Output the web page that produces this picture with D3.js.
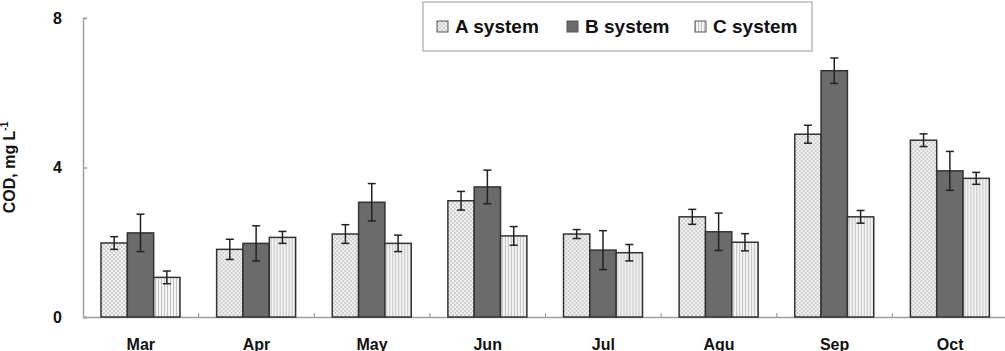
<!DOCTYPE html>
<html>
<head>
<meta charset="utf-8">
<script src="https://cdn.jsdelivr.net/npm/d3@7"></script>
<style>
  body { margin: 0; background: #fff; }
  svg { display: block; font-family: Arial, "Liberation Sans", sans-serif; }
</style>
</head>
<body>
<div id="chart"></div>
<script>
// Data
const months = ["Mar", "Apr", "May", "Jun", "Jul", "Agu", "Sep", "Oct"];
const seriesNames = ["A system", "B system", "C system"];
const aValues = [1.98, 1.81, 2.22, 3.11, 2.22, 2.68, 4.89, 4.73];
const bValues = [2.25, 1.97, 3.07, 3.48, 1.79, 2.28, 6.59, 3.91];
const cValues = [1.06, 2.13, 1.97, 2.17, 1.72, 2.00, 2.68, 3.71];
const aErrors = [0.17, 0.27, 0.25, 0.25, 0.12, 0.20, 0.24, 0.17];
const bErrors = [0.50, 0.47, 0.50, 0.45, 0.52, 0.50, 0.34, 0.52];
const cErrors = [0.17, 0.16, 0.22, 0.25, 0.22, 0.23, 0.17, 0.16];
const yTicks = [0, 4, 8];

const width = 1005, height = 351;
const margin = {top: 18, right: -3, bottom: 34, left: 83};

const svg = d3.select("#chart")
  .append("svg")
    .attr("width", width)
    .attr("height", height);

// fill patterns
const defs = svg.append("defs");
const patA = defs.append("pattern")
  .attr("id", "patA").attr("patternUnits", "userSpaceOnUse")
  .attr("width", 4).attr("height", 4);
patA.append("rect").attr("width", 4).attr("height", 4).attr("fill", "#f4f4f4");
patA.append("circle").attr("cx", 1).attr("cy", 1).attr("r", 0.7).attr("fill", "#888");
patA.append("circle").attr("cx", 3).attr("cy", 3).attr("r", 0.7).attr("fill", "#888");

const patC = defs.append("pattern")
  .attr("id", "patC").attr("patternUnits", "userSpaceOnUse")
  .attr("width", 3).attr("height", 4);
patC.append("rect").attr("width", 3).attr("height", 4).attr("fill", "#f4f4f4");
patC.append("rect").attr("x", 0).attr("width", 1).attr("height", 4).attr("fill", "#c2c2c2");

const fills = ["url(#patA)", "#6b6b6b", "url(#patC)"];

// rows for the bars
const rows = months.map((m, i) => ({
  month: m,
  bars: [
    {key: seriesNames[0], value: aValues[i], err: aErrors[i]},
    {key: seriesNames[1], value: bValues[i], err: bErrors[i]},
    {key: seriesNames[2], value: cValues[i], err: cErrors[i]}
  ]
}));

// scales
const x0 = d3.scaleBand()
  .domain(months)
  .range([margin.left, width - margin.right]);
const x1 = d3.scaleBand()
  .domain(seriesNames)
  .range([18, 97]);
const y = d3.scaleLinear()
  .domain([0, 8])
  .range([height - margin.bottom, margin.top]);

// y axis
const yAxis = svg.append("g")
  .attr("transform", `translate(${margin.left},0)`)
  .call(d3.axisLeft(y).tickValues(yTicks).tickSize(-4).tickFormat(d3.format("d")).tickPadding(21));
yAxis.select(".domain").attr("stroke", "#a0a0a0").attr("stroke-width", 1.5);
yAxis.selectAll(".tick line").attr("stroke", "#a0a0a0").attr("stroke-width", 1.5);
yAxis.selectAll("text")
  .attr("font-size", 16).attr("font-weight", "bold").attr("fill", "#111");

// x axis
const xAxis = svg.append("g")
  .attr("transform", `translate(0,${y(0)})`)
  .call(d3.axisBottom(x0).tickSize(0).tickPadding(22));
xAxis.select(".domain").attr("stroke", "#a0a0a0").attr("stroke-width", 1.5);
xAxis.selectAll("text")
  .attr("font-size", 16).attr("font-weight", "bold").attr("fill", "#111");

// small separator ticks between months
svg.append("g")
  .selectAll("line")
  .data(months.slice(1))
  .join("line")
    .attr("x1", d => x0(d))
    .attr("x2", d => x0(d))
    .attr("y1", y(0))
    .attr("y2", y(0) - 4)
    .attr("stroke", "#a0a0a0")
    .attr("stroke-width", 1.2);

// y label
const yLabel = svg.append("text")
  .attr("transform", `translate(15,${(y(0) + y(8)) / 2}) rotate(-90)`)
  .attr("text-anchor", "middle")
  .attr("font-size", 16)
  .attr("font-weight", "bold")
  .attr("fill", "#111");
yLabel.append("tspan").text("COD, mg L");
yLabel.append("tspan").attr("dy", -7).attr("font-size", 10).text("-1");

// bars
const groups = svg.append("g")
  .selectAll("g")
  .data(rows)
  .join("g")
    .attr("transform", d => `translate(${x0(d.month)},0)`);

groups.selectAll("rect")
  .data(d => d.bars)
  .join("rect")
    .attr("x", d => x1(d.key))
    .attr("y", d => y(d.value))
    .attr("width", x1.bandwidth())
    .attr("height", d => y(0) - y(d.value))
    .attr("fill", (d, i) => fills[i])
    .attr("stroke", "#333")
    .attr("stroke-width", 1.5);

// error bars
const errG = groups.selectAll("g.err")
  .data(d => d.bars)
  .join("g")
    .attr("class", "err")
    .attr("stroke", "#222")
    .attr("stroke-width", 1.5);
errG.append("line")
  .attr("x1", d => x1(d.key) + x1.bandwidth() / 2)
  .attr("x2", d => x1(d.key) + x1.bandwidth() / 2)
  .attr("y1", d => y(d.value + d.err))
  .attr("y2", d => y(d.value - d.err));
errG.append("line")
  .attr("x1", d => x1(d.key) + x1.bandwidth() / 2 - 4)
  .attr("x2", d => x1(d.key) + x1.bandwidth() / 2 + 4)
  .attr("y1", d => y(d.value + d.err))
  .attr("y2", d => y(d.value + d.err));
errG.append("line")
  .attr("x1", d => x1(d.key) + x1.bandwidth() / 2 - 4)
  .attr("x2", d => x1(d.key) + x1.bandwidth() / 2 + 4)
  .attr("y1", d => y(d.value - d.err))
  .attr("y2", d => y(d.value - d.err));

// legend
const legend = svg.append("g");
legend.append("rect")
  .attr("x", 423).attr("y", 2)
  .attr("width", 389).attr("height", 49)
  .attr("fill", "#fff")
  .attr("stroke", "#aaa")
  .attr("stroke-width", 1.2);

const legendX = [437, 567, 695];
const items = legend.selectAll("g.item")
  .data(seriesNames)
  .join("g")
    .attr("class", "item")
    .attr("transform", (d, i) => `translate(${legendX[i]},21)`);
items.append("rect")
  .attr("width", 11).attr("height", 11)
  .attr("fill", (d, i) => fills[i])
  .attr("stroke", "#555")
  .attr("stroke-width", 1);
items.append("text")
  .attr("x", 18).attr("y", 12)
  .attr("font-size", 19)
  .attr("font-weight", "bold")
  .attr("fill", "#111")
  .text(d => d);
</script>
</body>
</html>
